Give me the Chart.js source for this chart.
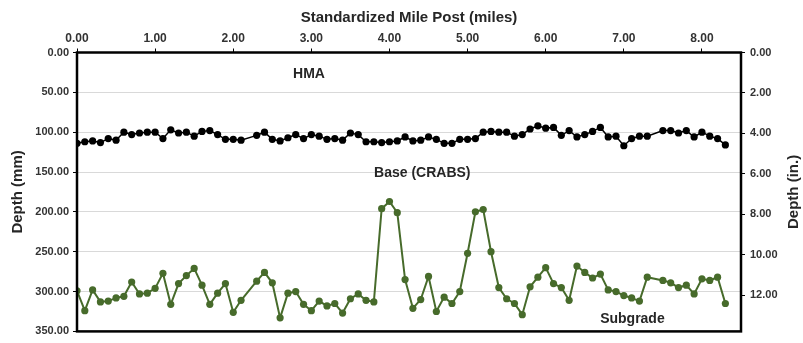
<!DOCTYPE html>
<html>
<head>
<meta charset="utf-8">
<script src="https://cdn.jsdelivr.net/npm/chart.js@4/dist/chart.umd.min.js"></script>
<style>
  html, body { margin: 0; padding: 0; background: #fff; }
  #wrap { width: 803px; height: 343px; }
</style>
</head>
<body>
<div id="wrap"><canvas id="depthChart" width="803" height="343"></canvas></div>
<script>
// mile posts (0.1 mi spacing, no readings at 2.2 and 7.4)
const mileposts = [
  0.0, 0.1, 0.2, 0.3, 0.4, 0.5, 0.6, 0.7, 0.8, 0.9, 1.0, 1.1, 1.2, 1.3, 1.4, 1.5, 1.6, 1.7, 1.8, 1.9, 2.0, 2.1,
  2.3, 2.4, 2.5, 2.6, 2.7, 2.8, 2.9, 3.0, 3.1, 3.2, 3.3, 3.4, 3.5, 3.6, 3.7, 3.8, 3.9, 4.0, 4.1, 4.2,
  4.3, 4.4, 4.5, 4.6, 4.7, 4.8, 4.9, 5.0, 5.1, 5.2, 5.3, 5.4, 5.5, 5.6, 5.7, 5.8, 5.9, 6.0, 6.1, 6.2, 6.3,
  6.4, 6.5, 6.6, 6.7, 6.8, 6.9, 7.0, 7.1, 7.2, 7.3,
  7.5, 7.6, 7.7, 7.8, 7.9, 8.0, 8.1, 8.2, 8.3
];

// bottom of HMA layer (mm)
const hmaDepth = [
  114, 112, 111, 113, 108, 110, 100, 103, 101, 100, 100, 108, 97, 101, 100, 105, 99, 98, 103, 109, 109, 110,
  104, 100, 109, 111, 107, 103, 108, 103, 105, 109, 108, 110, 101, 103, 112, 112, 113, 112, 111, 106,
  111, 110, 106, 109, 114, 114, 109, 109, 108, 100, 99, 100, 100, 105, 103, 96, 92, 95, 94, 104, 98,
  106, 103, 99, 94, 106, 105, 117, 108, 105, 105,
  98, 98, 101, 98, 106, 100, 105, 108, 116
];

// bottom of base (CRABS) layer (mm)
const baseDepth = [
  299, 324, 298, 313, 312, 308, 306, 288, 303, 302, 296, 277, 316, 290, 280, 271, 292, 316, 302, 290, 326, 311,
  287, 276, 289, 333, 302, 300, 316, 324, 312, 318, 315, 327, 309, 303, 311, 313, 196, 187, 201, 285,
  321, 310, 281, 325, 307, 315, 300, 252, 200, 197, 250, 295, 309, 315, 329, 294, 282, 270, 290, 295, 311,
  268, 276, 283, 278, 298, 300, 305, 308, 312, 282,
  286, 289, 295, 292, 303, 284, 286, 282, 315
];

const xTicks = [0, 1, 2, 3, 4, 5, 6, 7, 8];

// layer names and where they sit (mile, mm)
const layerNames = ['HMA', 'Base (CRABS)', 'Subgrade'];
const layerNameMile = [2.97, 4.42, 7.11];
const layerNameDepth = [27, 151, 335];

const MM_PER_IN = 25.4;
const boldFont = "'Liberation Sans', Arial, sans-serif";
const narrowFont = "'Liberation Sans Narrow', 'Arial Narrow', 'Liberation Sans', Arial, sans-serif";

const hmaPoints = mileposts.map((m, i) => ({ x: m, y: hmaDepth[i] }));
const basePoints = mileposts.map((m, i) => ({ x: m, y: baseDepth[i] }));

const framePlugin = {
  id: 'frame',
  afterDatasetsDraw(chart) {
    const { ctx, chartArea: a, scales } = chart;
    ctx.save();
    ctx.font = "bold 14px " + boldFont;
    ctx.fillStyle = '#262626';
    ctx.textAlign = 'center';
    ctx.textBaseline = 'middle';
    layerNames.forEach((name, i) => {
      ctx.fillText(name, scales.x.getPixelForValue(layerNameMile[i]), scales.y.getPixelForValue(layerNameDepth[i]));
    });
    // right axis title reads bottom-to-top like the left one
    ctx.font = "bold 15px " + boldFont;
    ctx.translate(scales.yIn.right - 9, (a.top + a.bottom) / 2);
    ctx.rotate(-Math.PI / 2);
    ctx.fillText('Depth (in.)', 0, 0);
    ctx.restore();

    ctx.save();
    ctx.strokeStyle = '#000';
    ctx.lineWidth = 2.5;
    ctx.strokeRect(a.left, a.top, a.right - a.left, a.bottom - a.top);
    ctx.restore();
  }
};

new Chart(document.getElementById('depthChart'), {
  type: 'line',
  data: {
    datasets: [
      {
        label: 'HMA',
        data: hmaPoints,
        borderColor: '#000000',
        backgroundColor: '#000000',
        borderWidth: 1.5,
        pointRadius: 3.6,
        pointBorderWidth: 0,
        tension: 0
      },
      {
        label: 'Base (CRABS)',
        data: basePoints,
        borderColor: '#476b2b',
        backgroundColor: '#476b2b',
        borderWidth: 2,
        pointRadius: 3.6,
        pointBorderWidth: 0,
        tension: 0
      }
    ]
  },
  options: {
    responsive: false,
    animation: false,
    layout: { padding: { top: 0, left: 0, right: 0, bottom: 9 } },
    plugins: {
      legend: { display: false },
      tooltip: { enabled: false }
    },
    scales: {
      x: {
        type: 'linear',
        position: 'top',
        min: 0,
        max: 8.5,
        afterBuildTicks: s => { s.ticks = xTicks.map(v => ({ value: v })); },
        afterFit: s => { s.height = 52.5; },
        border: { display: false },
        grid: { drawOnChartArea: false, tickLength: 4, tickColor: '#000', lineWidth: 1 },
        ticks: {
          color: '#333333',
          padding: 3,
          maxRotation: 0,
          font: { family: narrowFont, size: 12, weight: 'bold' },
          callback: v => Number(v).toFixed(2)
        },
        title: {
          display: true,
          text: 'Standardized Mile Post (miles)',
          color: '#262626',
          padding: { top: 9, bottom: 0 },
          font: { family: boldFont, size: 15, weight: 'bold' }
        }
      },
      y: {
        position: 'left',
        reverse: true,
        min: 0,
        max: 350,
        afterFit: s => { s.width = 77; },
        border: { display: false },
        grid: { color: '#d9d9d9', lineWidth: 1, tickLength: 4, tickColor: '#000' },
        ticks: {
          stepSize: 50,
          color: '#333333',
          padding: 4,
          font: { family: boldFont, size: 11, weight: 'bold' },
          callback: v => Number(v).toFixed(2)
        },
        title: {
          display: true,
          text: 'Depth (mm)',
          color: '#262626',
          padding: { top: 9, bottom: 0 },
          font: { family: boldFont, size: 15, weight: 'bold' }
        }
      },
      yIn: {
        position: 'right',
        reverse: true,
        min: 0,
        max: 350 / MM_PER_IN,
        afterFit: s => { s.width = 62; },
        border: { display: false },
        grid: { drawOnChartArea: false, tickLength: 4, tickColor: '#000' },
        ticks: {
          stepSize: 2,
          includeBounds: false,
          color: '#333333',
          padding: 5,
          font: { family: boldFont, size: 11, weight: 'bold' },
          callback: v => Number(v).toFixed(2)
        },
        title: { display: false }
      }
    }
  },
  plugins: [framePlugin]
});
</script>
</body>
</html>
